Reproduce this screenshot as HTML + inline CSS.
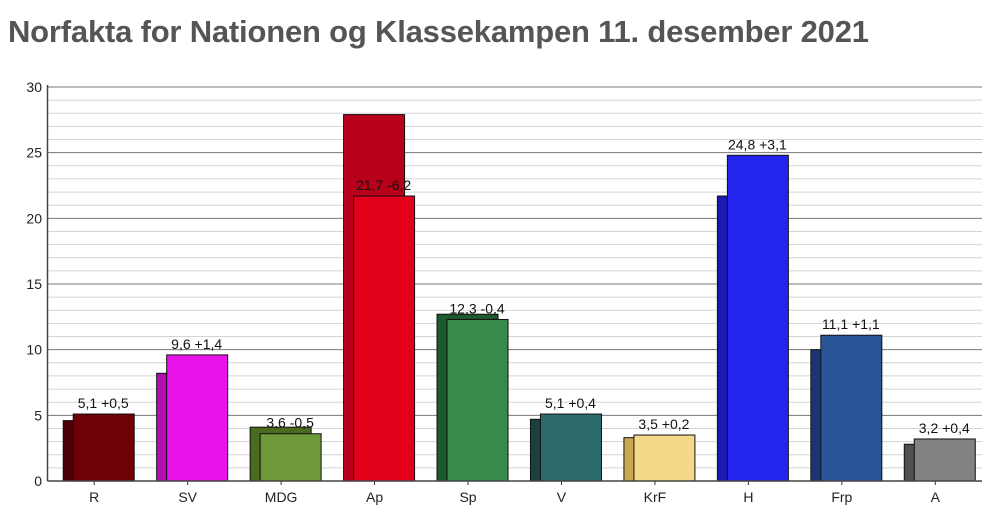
<!DOCTYPE html>
<html><head><meta charset="utf-8"><style>
body{margin:0;background:#fff;width:1000px;height:514px;overflow:hidden;font-family:"Liberation Sans",sans-serif}
h1{position:absolute;left:8px;top:14px;margin:0;font-size:31px;font-weight:bold;color:#555;letter-spacing:-0.2px}
svg{position:absolute;left:0;top:0}
</style></head><body>
<h1>Norfakta for Nationen og Klassekampen 11. desember 2021</h1>
<svg id="c" width="1000" height="514"></svg>
<script>
const categories=["R","SV","MDG","Ap","Sp","V","KrF","H","Frp","A"];
const currentValues=[5.1,9.6,3.6,21.7,12.3,5.1,3.5,24.8,11.1,3.2];
const previousValues=[4.6,8.2,4.1,27.9,12.7,4.7,3.3,21.7,10.0,2.8];
const valueLabels=["5,1 +0,5","9,6 +1,4","3,6 -0,5","21,7 -6,2","12,3 -0,4","5,1 +0,4","3,5 +0,2","24,8 +3,1","11,1 +1,1","3,2 +0,4"];
const yTicks=[0,5,10,15,20,25,30];
const frontColors=["#6e0008","#e813e8","#6e9a3a","#e2001a","#378a4c","#2c6b6b","#f5d98a","#2424ef","#2a5596","#828282"];
const backColors=["#4a0005","#b010b0","#4a6b20","#b8001a","#1f5a2c","#1a4040","#c8a850","#1a1ab0","#1a3570","#505050"];
const NS="http://www.w3.org/2000/svg",svg=document.getElementById("c");
const X0=47.5,X1=982,Y0=481,Y30=87;
const y=v=>Y0-(v/30)*(Y0-Y30);
const step=(X1-X0)/categories.length;
const cx=i=>X0+step*(i+0.5);
function mk(t,a){const e=document.createElementNS(NS,t);for(const k in a)e.setAttribute(k,a[k]);svg.appendChild(e);return e;}
for(let v=0;v<=30;v++){
 const g=mk("line",{x1:X0,x2:X1,y1:y(v),y2:y(v),stroke:v%5==0?"#777":"#d4d4d4","stroke-width":1});
 
 
}
yTicks.forEach(v=>{
 const t=mk("text",{x:42,y:y(v)+5,"text-anchor":"end","font-size":14,fill:"#222"});t.textContent=v;
 
 
});
categories.forEach((c,i)=>{
 const m=cx(i);
 const b=mk("rect",{x:m-31,y:y(previousValues[i]),width:61,height:Y0-y(previousValues[i]),fill:backColors[i],stroke:"#111","stroke-width":1});
 
 
 const f=mk("rect",{x:m-21,y:y(currentValues[i]),width:61,height:Y0-y(currentValues[i]),fill:frontColors[i],stroke:"#111","stroke-width":1});
 
 
 const l=mk("text",{x:m+9,y:y(currentValues[i])-6,"text-anchor":"middle","font-size":14,fill:"#111"});l.textContent=valueLabels[i];
 
 
 const tk=mk("line",{x1:m,x2:m,y1:Y0,y2:Y0+4,stroke:"#333"});
 
 
 const t=mk("text",{x:m,y:Y0+21,"text-anchor":"middle","font-size":14,fill:"#222"});t.textContent=c;
 
 
});
const ax=mk("line",{x1:X0,x2:X0,y1:Y30-2,y2:Y0,stroke:"#444","stroke-width":1.5});


const bx=mk("line",{x1:X0,x2:X1,y1:Y0,y2:Y0,stroke:"#444","stroke-width":1.5});


</script>
</body></html>
